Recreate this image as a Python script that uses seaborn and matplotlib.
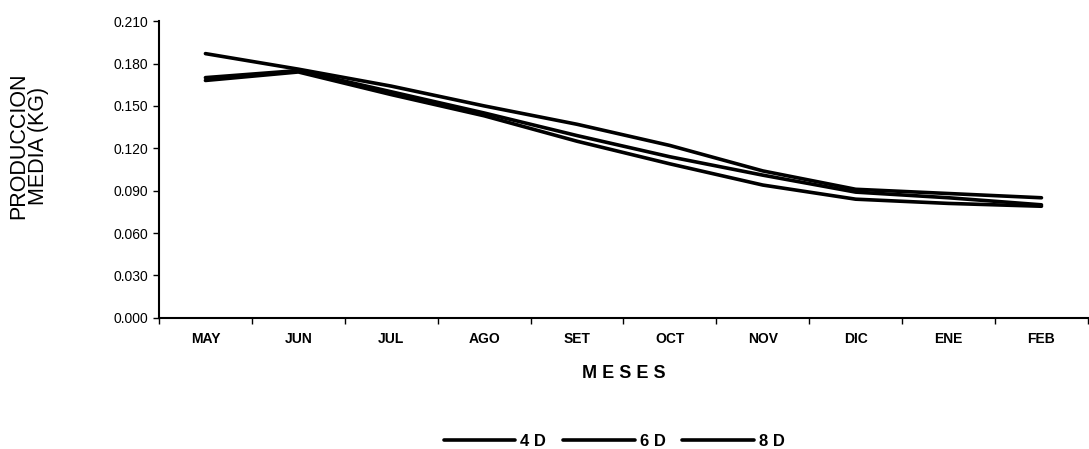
import pandas as pd
import matplotlib.pyplot as plt
import seaborn as sns

meses = ["MAY", "JUN", "JUL", "AGO", "SET", "OCT", "NOV", "DIC", "ENE", "FEB"]
prod_4d = [0.187, 0.176, 0.164, 0.150, 0.137, 0.122, 0.104, 0.091, 0.088, 0.085]
prod_6d = [0.170, 0.175, 0.160, 0.145, 0.129, 0.114, 0.101, 0.089, 0.085, 0.080]
prod_8d = [0.168, 0.174, 0.158, 0.143, 0.125, 0.109, 0.094, 0.084, 0.081, 0.079]
ticks_y = [0.0, 0.03, 0.06, 0.09, 0.12, 0.15, 0.18, 0.21]

df = pd.DataFrame({"Mes": meses * 3,
                   "Produccion": prod_4d + prod_6d + prod_8d,
                   "Serie": ["4D"] * 10 + ["6D"] * 10 + ["8D"] * 10})
df["x"] = df["Mes"].map({m: i for i, m in enumerate(meses)})

sns.set_style("ticks")
plt.rcParams["font.family"] = ["Liberation Sans", "DejaVu Sans"]
plt.rcParams["text.color"] = "black"
plt.rcParams["axes.labelcolor"] = "black"

fig = plt.figure(figsize=(10.89, 4.49), dpi=100)
ax = fig.add_axes([0.146, 0.292, 0.853, 0.661])

sns.lineplot(data=df, x="x", y="Produccion", hue="Serie", ax=ax,
             palette=["black", "black", "black"], linewidth=2.6, legend=True)

ax.set_xlim(-0.5, len(meses) - 0.5)
ax.set_ylim(0, 0.21)
ax.set_yticks(ticks_y)
ax.set_yticklabels([f"{t:.3f}" for t in ticks_y], fontsize=10)
ax.set_xticks([i - 0.5 for i in range(len(meses) + 1)])
ax.set_xticklabels([])
ax.set_xticks(range(len(meses)), minor=True)
ax.set_xticklabels(meses, minor=True, fontsize=10, fontweight="bold")
ax.tick_params(axis="x", which="minor", length=0, pad=10, labelcolor="black")
ax.tick_params(axis="both", which="major", length=4, width=1, colors="black")
for s in ["top", "right"]:
    ax.spines[s].set_visible(False)
for s in ["left", "bottom"]:
    ax.spines[s].set_color("black")
    ax.spines[s].set_linewidth(1.5)

ax.set_ylabel("PRODUCCION\nMEDIA (KG)", fontsize=15.5, linespacing=0.95, color="black")
ax.yaxis.set_label_coords(-0.118, 0.58)
ax.set_xlabel("M E S E S", fontsize=13, fontweight="bold", labelpad=14, color="black")

leg = ax.legend(loc="upper center", bbox_to_anchor=(0.49, -0.34), ncol=3,
                frameon=False, fontsize=12, handlelength=4.3, handletextpad=0.3,
                columnspacing=1.0)
for t in leg.get_texts():
    t.set_fontweight("bold")
    t.set_color("black")
    t.set_text(" ".join(t.get_text()))

fig.savefig("out.png", dpi=100)
